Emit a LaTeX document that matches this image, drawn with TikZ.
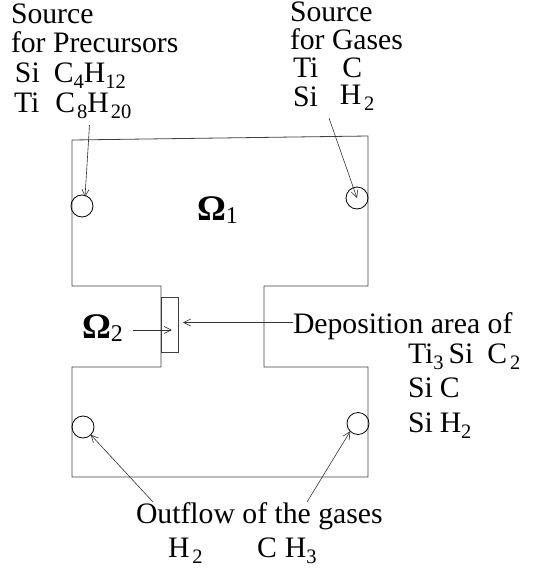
\documentclass[tikz,border=0pt]{standalone}
\usepackage{fontspec}
\setmainfont{Liberation Serif}
\usepackage{tikz}
\usetikzlibrary{arrows.meta,calc}
\newcommand{\lowsub}[2][6pt]{\raisebox{-#1}{\fontsize{20.5}{20.5}\selectfont #2}}
\begin{document}
\begin{tikzpicture}[x=1pt,y=-1pt,>={Straight Barb[length=7pt,width=7pt]},line width=0.8pt,
	every node/.style={inner sep=0pt, outer sep=0pt},
	label text/.style={anchor=base west, font=\fontsize{29.7}{30}\selectfont},
	omega text/.style={anchor=base west, font=\fontsize{36}{36}\selectfont},
	hole/.style={draw, circle, minimum size=22pt},
	wall/.style={draw=black!75},
	pointer/.style={->, draw=black!80, line width=0.6pt}]
	\useasboundingbox (0,0) rectangle (535,571);

	% reactor outline
	\draw[wall] (72,140) -- (368,136) -- (368,286) -- (264,286) -- (264,367) -- (368,367) -- (368,477)
		-- (72,477) -- (72,367) -- (161,367) -- (161,286) -- (72,286) -- cycle;
	\node [draw=black!75, minimum width=17.5pt, minimum height=55pt, anchor=north west] (deposit) at (161,297) {};

	% inlets and outlets
	\node [hole] (inprec) at (82,206) {};
	\node [hole] (ingas) at (357,198) {};
	\node [hole] (outleft) at (83,427) {};
	\node [hole] (outright) at (358,423.5) {};

	% labels
	\node [label text] (sourcea) at (11,23) {Source};
	\node [label text] (fora) at (11,52) {for Precursors};
	\node [label text] (sia) at (15,82) {Si\hspace{14pt}C\lowsub{4}H\lowsub{12}};
	\node [label text] (tia) at (14,112) {Ti\hspace{16pt}C\hspace{2pt}\lowsub{8}H\hspace{2pt}\lowsub{20}};

	\node [label text] (sourceb) at (290,21) {Source};
	\node [label text] (forb) at (290,49) {for Gases};
	\node [label text] (tib) at (293,77) {Ti\hspace{24pt}C};
	\node [label text] (sib) at (293,106) {Si\hspace{22pt}\raisebox{2pt}{H}\hspace{3pt}\lowsub[4pt]{2}};

	\node [omega text] (omegaa) at (197,220) {\textbf{Ω}\lowsub[3pt]{\fontsize{24}{24}\selectfont 1}};
	\node [omega text] (omegab) at (82,338) {\textbf{Ω}\lowsub[3pt]{\fontsize{24}{24}\selectfont 2}};

	\node [label text] (deptext) at (293,333) {Deposition area of};
	\node [label text] (depa) at (408,363) {Ti\lowsub{3}\hspace{5pt}Si\hspace{14pt}C\hspace{3pt}\lowsub{2}};
	\node [label text] (depb) at (408,397) {Si\hspace{7pt}C};
	\node [label text] (depc) at (408,432) {Si\hspace{7pt}H\lowsub{2}};

	\node [label text] (outtext) at (136,523) {Outflow of the gases};
	\node [label text] (outa) at (168,557) {H\hspace{3pt}\lowsub{2}};
	\node [label text] (outb) at (257,557) {C\hspace{8pt}H\lowsub{3}};

	% connectors
	\draw[pointer] ($(tia.base west)+(75.5,13)$) -- ($(inprec.center)+(3,-9)$);
	\draw[pointer] ($(sib.base west)+(36,12)$) -- (ingas.center);
	\draw[pointer] ($(omegab.base east)+(10,-8)$) -- ($(omegab.base east)+(49,-8)$);
	\draw[pointer] ($(deptext.base west)+(0,-10.5)$) -- ($(deptext.base west)+(-110,-10.5)$);
	\draw[pointer] ($(outtext.base west)+(17,-21)$) -- (outleft.south east);
	\draw[pointer] ($(outtext.base west)+(171,-21)$) -- (outright.south west);
\end{tikzpicture}
\end{document}
